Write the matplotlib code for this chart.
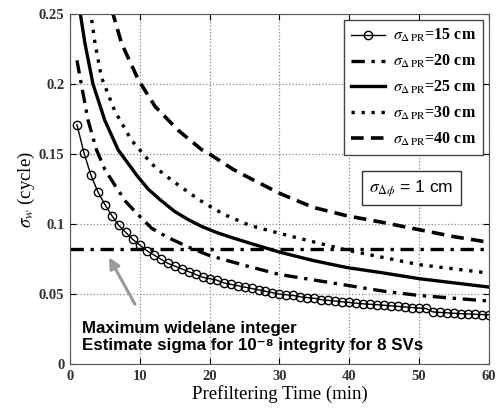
import matplotlib
import numpy as np

matplotlib.use("Agg")
import matplotlib.pyplot as plt

plt.rcParams["mathtext.fontset"] = "stix"
plt.rcParams["font.family"] = ["Liberation Serif", "DejaVu Serif"]

# sigma_PR = 15 cm, one sample per minute
t_15 = list(range(1, 61))
s_15 = [0.171, 0.151, 0.135, 0.123, 0.114, 0.106, 0.099, 0.094, 0.089, 0.085,
        0.081, 0.078, 0.075, 0.072, 0.070, 0.068, 0.066, 0.064, 0.062, 0.061,
        0.060, 0.058, 0.057, 0.056, 0.055, 0.054, 0.053, 0.052, 0.051, 0.050,
        0.0495, 0.049, 0.048, 0.0475, 0.047, 0.046, 0.0455, 0.045, 0.0445, 0.044,
        0.0435, 0.043, 0.0427, 0.0424, 0.042, 0.0416, 0.0412, 0.0408, 0.0404, 0.040,
        0.0397, 0.0372, 0.0369, 0.0366, 0.0363, 0.036, 0.0358, 0.0356, 0.0354, 0.0352]

t_20 = [1, 1.7, 2.6, 3.8, 5, 6.4, 8, 9.5, 11.7, 14, 17, 20, 25, 30, 35, 40, 45, 50, 55, 60]
s_20 = [0.217, 0.198, 0.174, 0.153, 0.139, 0.128, 0.116, 0.108, 0.097, 0.0905,
        0.0835, 0.0775, 0.0705, 0.064, 0.060, 0.056, 0.052, 0.049, 0.047, 0.045]

t_25 = [1.4, 2.15, 3.3, 5, 6.9, 9.7, 11.2, 13, 15, 17, 19, 21, 23.4, 26, 30, 34.8, 39.6, 45, 50, 55, 60]
s_25 = [0.253, 0.229, 0.200, 0.174, 0.153, 0.134, 0.125, 0.117, 0.109, 0.103,
        0.098, 0.094, 0.090, 0.086, 0.080, 0.074, 0.069, 0.065, 0.061, 0.058, 0.055]

t_30 = [2.9, 3.6, 4.5, 6.4, 8.8, 11.7, 13.6, 15.5, 18.6, 22, 25.8, 30, 34.8, 40, 45, 50, 55, 60]
s_30 = [0.253, 0.229, 0.205, 0.181, 0.160, 0.143, 0.135, 0.128, 0.117, 0.107,
        0.099, 0.0934, 0.0874, 0.081, 0.076, 0.071, 0.068, 0.065]

t_40 = [6, 7.4, 9.8, 12.2, 15.5, 18.9, 20, 23.4, 25.3, 30, 34.8, 39.6, 45, 50, 55, 60]
s_40 = [0.253, 0.229, 0.203, 0.184, 0.167, 0.153, 0.150, 0.139, 0.134, 0.122,
        0.112, 0.106, 0.101, 0.096, 0.091, 0.087]

threshold = 0.082
labels = ["15", "20", "25", "30", "40"]

fig = plt.figure(figsize=(4.97, 4.17), dpi=100)
ax = fig.add_axes([0.1408, 0.127, 0.843, 0.839])

leg_fmt = r"$\sigma_{\Delta\,\mathrm{PR}}$=%s cm"
ax.plot(t_15, s_15, color="k", lw=1, marker="o", ms=6, mfc="none", mew=1,
        label=leg_fmt % labels[0])
ax.plot(t_20, s_20, color="k", lw=2.4, dashes=(4, 2, 1, 2), label=leg_fmt % labels[1])
ax.plot(t_25, s_25, color="k", lw=2.4, label=leg_fmt % labels[2])
ax.plot(t_30, s_30, color="k", lw=2.4, dashes=(1, 2), label=leg_fmt % labels[3])
ax.plot(t_40, s_40, color="k", lw=2.6, dashes=(3.5, 2), label=leg_fmt % labels[4])
ax.axhline(threshold, color="k", lw=2.4, dashes=(4, 2, 1, 2))

ax.set_xlim(0, 60)
ax.set_ylim(0, 0.25)
ax.set_xticks(range(0, 61, 10))
ax.set_yticks([0, 0.05, 0.1, 0.15, 0.2, 0.25])
ax.set_yticklabels(["0", "0.05", "0.1", "0.15", "0.2", "0.25"])
ax.tick_params(direction="in", top=True, right=True, length=4, labelsize=10.5, pad=4)
for lab in ax.get_xticklabels() + ax.get_yticklabels():
    lab.set_fontweight("bold")
    lab.set_color("#333333")
ax.grid(True, linestyle=":", color="#888888", lw=0.9)
for sp in ax.spines.values():
    sp.set_color("#555555")

ax.set_xlabel("Prefiltering Time (min)", fontsize=13.5, labelpad=2)
ax.set_ylabel(r"$\sigma_w$ (cycle)", fontsize=13.5, labelpad=1)

leg = ax.legend(loc="upper right", bbox_to_anchor=(0.986, 0.983), borderaxespad=0,
                fancybox=False, edgecolor="#444444", framealpha=1, handlelength=2.1,
                handletextpad=0.5, prop={"weight": "bold", "size": 11.5},
                labelspacing=0.55, borderpad=0.45)
leg.get_frame().set_linewidth(1)

ax.text(48.9, 0.1257, r"$\sigma_{\Delta\phi}$ = 1 cm", family=["Liberation Sans", "DejaVu Sans"],
        fontsize=12.5, ha="center", va="center",
        bbox=dict(boxstyle="square,pad=0.42", fc="white", ec="#333333", lw=1))

ax.annotate("", xy=(5.4, 0.078), xytext=(9.5, 0.041),
            arrowprops=dict(arrowstyle="-|>", color="#999999", lw=2.2, mutation_scale=16))
ax.text(1.7, 0.0195, "Maximum widelane integer\nEstimate sigma for 10\u207b\u2078 integrity for 8 SVs",
        family=["Liberation Sans", "DejaVu Sans"], fontweight="bold", fontsize=12.2,
        ha="left", va="center", linespacing=1.2)

fig.savefig("out.png", dpi=100)
